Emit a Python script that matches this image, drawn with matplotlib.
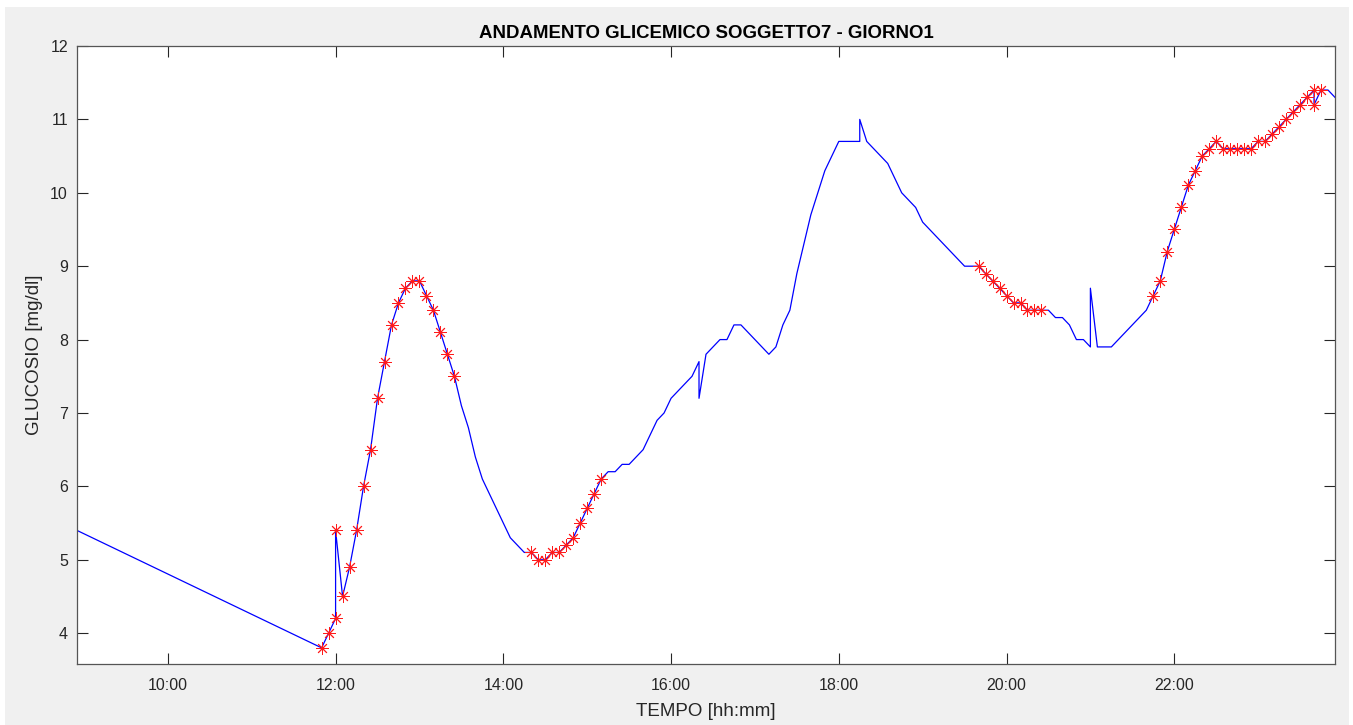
import pandas as pd
import matplotlib
matplotlib.use("Agg")
import matplotlib.pyplot as plt
import matplotlib.dates as mdates
from matplotlib.patches import Rectangle

# CGM readings (mmol/l), one every 5 minutes; repeated timestamps are double readings
times = [
    "08:55", "11:50", "11:55", "12:00", "12:00", "12:05", "12:10", "12:15", "12:20", "12:25",
    "12:30", "12:35", "12:40", "12:45", "12:50", "12:55", "13:00", "13:05", "13:10", "13:15",
    "13:20", "13:25", "13:30", "13:35", "13:40", "13:45", "13:50", "13:55", "14:00", "14:05",
    "14:10", "14:15", "14:20", "14:25", "14:30", "14:35", "14:40", "14:45", "14:50", "14:55",
    "15:00", "15:05", "15:10", "15:15", "15:20", "15:25", "15:30", "15:35", "15:40", "15:45",
    "15:50", "15:55", "16:00", "16:05", "16:10", "16:15", "16:20", "16:20", "16:25", "16:30",
    "16:35", "16:40", "16:45", "16:50", "16:55", "17:00", "17:05", "17:10", "17:15", "17:20",
    "17:25", "17:30", "17:35", "17:40", "17:45", "17:50", "17:55", "18:00", "18:05", "18:10",
    "18:15", "18:15", "18:20", "18:25", "18:30", "18:35", "18:40", "18:45", "18:50", "18:55",
    "19:00", "19:05", "19:10", "19:15", "19:20", "19:25", "19:30", "19:35", "19:40", "19:45",
    "19:50", "19:55", "20:00", "20:05", "20:10", "20:15", "20:20", "20:25", "20:30", "20:35",
    "20:40", "20:45", "20:50", "20:55", "21:00", "21:00", "21:05", "21:10", "21:15", "21:20",
    "21:25", "21:30", "21:35", "21:40", "21:45", "21:50", "21:55", "22:00", "22:05", "22:10",
    "22:15", "22:20", "22:25", "22:30", "22:35", "22:40", "22:45", "22:50", "22:55", "23:00",
    "23:05", "23:10", "23:15", "23:20", "23:25", "23:30", "23:35", "23:40", "23:40", "23:45",
    "23:50", "23:55",
]
glucose = [
    5.4, 3.8, 4.0, 4.2, 5.4, 4.5, 4.9, 5.4, 6.0, 6.5,
    7.2, 7.7, 8.2, 8.5, 8.7, 8.8, 8.8, 8.6, 8.4, 8.1,
    7.8, 7.5, 7.1, 6.8, 6.4, 6.1, 5.9, 5.7, 5.5, 5.3,
    5.2, 5.1, 5.1, 5.0, 5.0, 5.1, 5.1, 5.2, 5.3, 5.5,
    5.7, 5.9, 6.1, 6.2, 6.2, 6.3, 6.3, 6.4, 6.5, 6.7,
    6.9, 7.0, 7.2, 7.3, 7.4, 7.5, 7.7, 7.2, 7.8, 7.9,
    8.0, 8.0, 8.2, 8.2, 8.1, 8.0, 7.9, 7.8, 7.9, 8.2,
    8.4, 8.9, 9.3, 9.7, 10.0, 10.3, 10.5, 10.7, 10.7, 10.7,
    10.7, 11.0, 10.7, 10.6, 10.5, 10.4, 10.2, 10.0, 9.9, 9.8,
    9.6, 9.5, 9.4, 9.3, 9.2, 9.1, 9.0, 9.0, 9.0, 8.9,
    8.8, 8.7, 8.6, 8.5, 8.5, 8.4, 8.4, 8.4, 8.4, 8.3,
    8.3, 8.2, 8.0, 8.0, 7.9, 8.7, 7.9, 7.9, 7.9, 8.0,
    8.1, 8.2, 8.3, 8.4, 8.6, 8.8, 9.2, 9.5, 9.8, 10.1,
    10.3, 10.5, 10.6, 10.7, 10.6, 10.6, 10.6, 10.6, 10.6, 10.7,
    10.7, 10.8, 10.9, 11.0, 11.1, 11.2, 11.3, 11.4, 11.2, 11.4,
    11.4, 11.3,
]
# windows whose readings are marked with red asterisks
star_windows = [("11:50", "13:25"), ("14:20", "15:10"), ("19:40", "20:25"), ("21:45", "23:45")]

day = "2020-01-01 "
t = pd.to_datetime([day + s for s in times])
df = pd.DataFrame({"t": t, "g": glucose})
mask = pd.Series(False, index=df.index)
for a, b in star_windows:
    mask |= (df["t"] >= pd.Timestamp(day + a)) & (df["t"] <= pd.Timestamp(day + b))
stars = df[mask]

W, H = 1353, 725
fig = plt.figure(figsize=(W / 100, H / 100), dpi=100, facecolor="white")
fig.patches.append(Rectangle((5 / W, 0), (1349 - 5) / W, (H - 7) / H,
                             transform=fig.transFigure, facecolor="#f0f0f0",
                             edgecolor="none", zorder=-10))
ax = fig.add_axes([77 / W, 1 - 664 / H, (1335 - 77) / W, (664 - 46) / H])
ax.set_facecolor("white")

fam = ["Liberation Sans", "DejaVu Sans"]
plt.rcParams["font.family"] = fam
txt = "#262626"

ax.plot(df["t"], df["g"], color="#0000ff", lw=0.9, zorder=2)
ax.plot(stars["t"], stars["g"], linestyle="none", marker=(8, 2, 0), ms=9,
        mec="#ff1a1a", mew=0.65, zorder=3)

ax.set_xlim(pd.Timestamp(day + "08:55"), pd.Timestamp(day + "23:55"))
ax.set_ylim(3.58, 12)
ax.set_yticks(range(4, 13))
ax.xaxis.set_major_locator(mdates.HourLocator(byhour=range(10, 24, 2)))
ax.xaxis.set_major_formatter(mdates.DateFormatter("%H:%M"))

ax.tick_params(direction="in", length=8, width=0.8, colors=txt, labelsize=11.5,
               top=True, right=True)
ax.tick_params(axis="x", pad=10)
ax.tick_params(axis="y", pad=6.5)
for lab in ax.get_xticklabels() + ax.get_yticklabels():
    lab.set_family(fam)
for sp in ax.spines.values():
    sp.set_color("#555555")
    sp.set_linewidth(0.9)

ax.set_title("ANDAMENTO GLICEMICO SOGGETTO7 - GIORNO1", fontsize=13.4, fontweight="bold",
             color="black", family=fam, pad=6)
ax.set_xlabel("TEMPO [hh:mm]", fontsize=13.5, color=txt, labelpad=7, family=fam)
ax.set_ylabel("GLUCOSIO [mg/dl]", fontsize=13.5, color=txt, labelpad=5, family=fam)

fig.savefig("out.png", dpi=100, facecolor=fig.get_facecolor())
